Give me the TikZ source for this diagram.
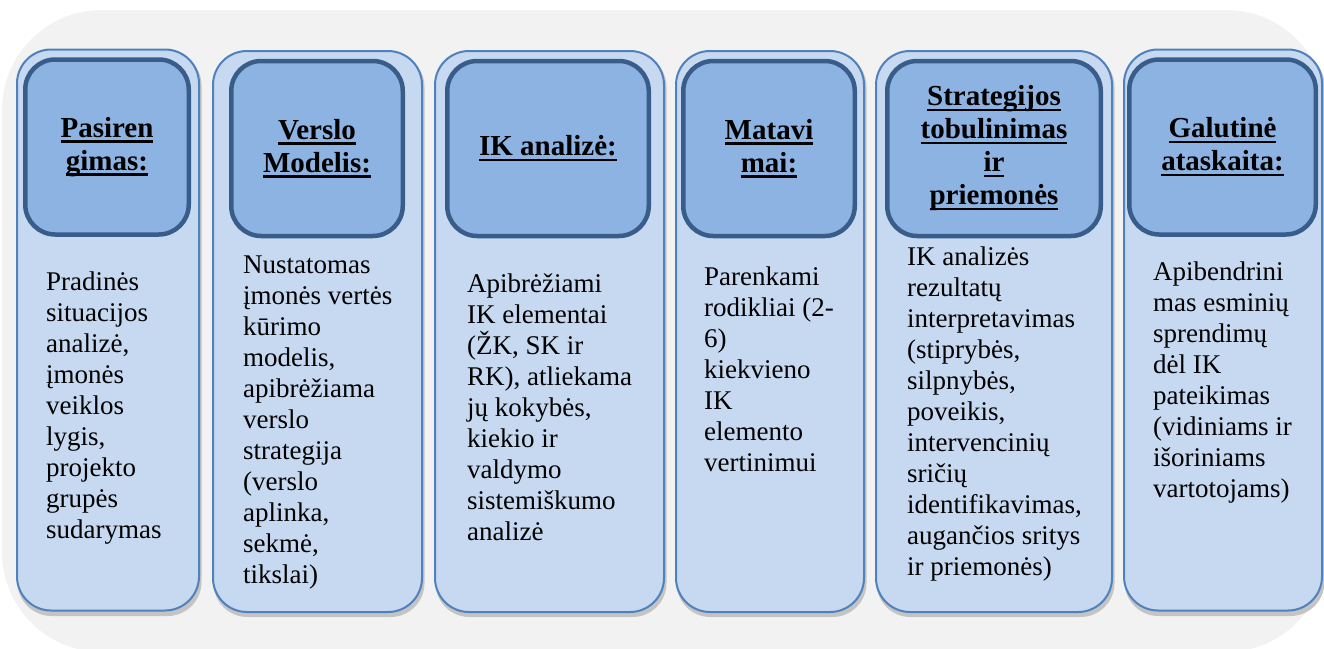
\documentclass[tikz,border=0pt]{standalone}
\usepackage{fontspec}
\newfontfamily\tnr{Liberation Serif}

\definecolor{bggrey}{HTML}{F2F2F2}
\definecolor{shadowgrey}{HTML}{C4C4C4}
\definecolor{colfill}{HTML}{C6D9F1}
\definecolor{coledge}{HTML}{4F81BD}
\definecolor{headfill}{HTML}{8DB3E2}
\definecolor{headedge}{HTML}{385D8A}

% underlined heading word
\newcommand\hu[1]{\setbox0\hbox{#1}\rlap{\copy0}\rule[-5.5pt]{\wd0}{2.4pt}}

\tikzset{
  column/.style={draw=coledge, line width=2pt, fill=colfill, rounded corners=34pt,
    inner sep=0pt, minimum height=561pt},
  colshadow/.style={fill=shadowgrey, rounded corners=34pt},
  header/.style={draw=headedge, line width=4.5pt, fill=headfill, rounded corners=30pt,
    inner sep=0pt, align=center, minimum height=175pt,
    font=\tnr\fontsize{29}{33}\selectfont\bfseries},
  body/.style={anchor=north west, inner sep=0pt, align=left,
    font=\tnr\fontsize{27}{31}\selectfont}
}

\begin{document}
\begin{tikzpicture}[x=1pt, y=-1pt]
\useasboundingbox (0,0) rectangle (1324,648);

% grey backdrop
\fill[bggrey, rounded corners=100pt] (2,10) rectangle (1326,652);

% column shadows
\fill[colshadow] (17.5,51.5) rectangle (201.5,616);
\fill[colshadow] (213.5,53) rectangle (424.5,617);
\fill[colshadow] (435.5,53) rectangle (666.5,617);
\fill[colshadow] (676.5,53) rectangle (866.5,617);
\fill[colshadow] (876.5,53) rectangle (1114.5,617);
\fill[colshadow] (1124.5,51.5) rectangle (1324.5,616);

% columns
\node[column, minimum width=182pt] (c1) at (108,330) {};
\node[column, minimum width=209pt] (c2) at (317.5,331.5) {};
\node[column, minimum width=229pt] (c3) at (549.5,331.5) {};
\node[column, minimum width=188pt] (c4) at (770,331.5) {};
\node[column, minimum width=236pt] (c5) at (994,331.5) {};
\node[column, minimum width=198pt] (c6) at (1223,330) {};

% headings
\node[header, minimum width=163.5pt] (h1) at (107,147) {\hu{Pasiren}\\\hu{gimas:}};
\node[header, minimum width=171.5pt] (h2) at (317,148.5) {\hu{Verslo}\\\hu{Modelis:}};
\node[header, minimum width=201.5pt] (h3) at (548,148.5) {\hu{IK analizė:}};
\node[header, minimum width=171.5pt] (h4) at (769,148.5) {\hu{Matavi}\\\hu{mai:}};
\node[header, minimum width=213.5pt] (h5) at (994,148.5) {\hu{Strategijos}\\\hu{tobulinimas}\\\hu{ir}\\\hu{priemonės}};
\node[header, minimum width=186.5pt] (h6) at (1222.5,147) {\hu{Galutinė}\\\hu{ataskaita:}};

% descriptions
\node[body] (b1) at (46,268.3) {\strut Pradinės\\situacijos\\analizė,\\įmonės\\veiklos\\lygis,\\projekto\\grupės\\sudarymas};
\node[body] (b2) at (243,251.3) {\strut Nustatomas\\įmonės vertės\\kūrimo\\modelis,\\apibrėžiama\\verslo\\strategija\\(verslo\\aplinka,\\sekmė,\\tikslai)};
\node[body] (b3) at (467,270.3) {\strut Apibrėžiami\\IK elementai\\(ŽK, SK ir\\RK), atliekama\\jų kokybės,\\kiekio ir\\valdymo\\sistemiškumo\\analizė};
\node[body] (b4) at (704,263.3) {\strut Parenkami\\rodikliai (2-\\6)\\kiekvieno\\IK\\elemento\\vertinimui};
\node[body] (b5) at (907,243.3) {\strut IK analizės\\rezultatų\\interpretavimas\\(stiprybės,\\silpnybės,\\poveikis,\\intervencinių\\sričių\\identifikavimas,\\augančios sritys\\ir priemonės)};
\node[body] (b6) at (1153,258.3) {\strut Apibendrini\\mas esminių\\sprendimų\\dėl IK\\pateikimas\\(vidiniams ir\\išoriniams\\vartotojams)};
\end{tikzpicture}
\end{document}
